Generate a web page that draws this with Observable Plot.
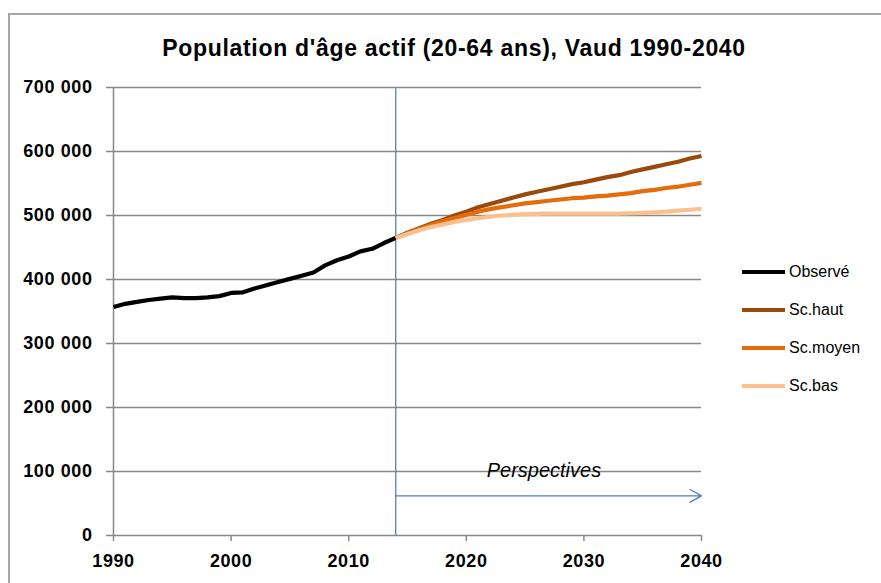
<!DOCTYPE html>
<html>
<head>
<meta charset="utf-8">
<script src="https://cdn.jsdelivr.net/npm/d3@7"></script>
<script src="https://cdn.jsdelivr.net/npm/@observablehq/plot@0.6"></script>
<style>
  html, body { margin: 0; padding: 0; background: #fff; overflow: hidden; }
  #wrap { position: relative; width: 881px; height: 583px; overflow: hidden; font-family: "Liberation Sans", Arial, sans-serif; }
  #frame { position: absolute; left: 8px; top: 13px; width: 1000px; height: 1000px; border-left: 2px solid #a6a6a6; border-top: 2px solid #a6a6a6; }
  #chart { position: absolute; left: 0; top: 0; }
  #title { position: absolute; left: 454px; top: 36px; transform: translateX(-50%); white-space: nowrap; font-weight: bold; font-size: 23px; letter-spacing: 0.7px; line-height: 24px; color: #000; }
  #legend { position: absolute; left: 742px; top: 253px; }
  .item { display: flex; align-items: center; height: 38px; font-size: 16px; }
  .sw { width: 43px; height: 4px; margin-right: 4px; }
</style>
</head>
<body>
<div id="wrap">
  <div id="frame"></div>
  <div id="chart"></div>
  <div id="title"></div>
  <div id="legend"></div>
</div>
<script>
const titleText = "Population d'âge actif (20-64 ans), Vaud 1990-2040";

const obsYears = d3.range(1990, 2015);
const obsValues = [357000, 362000, 365000, 368000, 370000, 372000, 371000, 371000, 372000, 374000,
                   379000, 380000, 386000, 391000, 396000, 401000, 406000, 411000, 422000, 430000,
                   436000, 444000, 448000, 457000, 465000];

const projYears = d3.range(2014, 2041);
const hautValues = [465000, 473000, 480000, 487000, 493000, 500000, 506000, 513000, 518000, 523000,
                    528000, 533000, 537000, 541000, 545000, 549000, 552000, 556000, 560000, 563000,
                    568000, 572000, 576000, 580000, 584000, 589000, 593000];
const moyenValues = [465000, 472000, 479000, 485000, 491000, 496000, 501000, 506000, 510000, 513000,
                     516000, 519000, 521000, 523000, 525000, 527000, 528000, 530000, 531000, 533000,
                     535000, 538000, 540000, 543000, 545000, 548000, 551000];
const basValues = [465000, 471000, 477000, 482000, 486000, 490000, 493000, 496000, 498000, 500000,
                   501000, 502000, 502500, 503000, 503000, 503000, 503000, 503000, 503000, 503000,
                   503500, 504000, 505000, 506000, 507500, 509000, 510500];

const seriesNames = ["Observé", "Sc.haut", "Sc.moyen", "Sc.bas"];
const seriesColors = ["#000000", "#9a4a0d", "#e46c0a", "#fac090"];

const xTicks = [1990, 2000, 2010, 2020, 2030, 2040];
const yTicks = [0, 100000, 200000, 300000, 400000, 500000, 600000, 700000];

const forecastStart = [2014];
const arrowSpan = [{x1: 2014, x2: 2040, y: 62000}];
const annotation = [{x: 2026.6, y: 101500, label: "Perspectives"}];

const rows = [];
obsYears.forEach((yr, i) => rows.push({year: yr, value: obsValues[i], series: seriesNames[0]}));
[hautValues, moyenValues, basValues].forEach((arr, k) =>
  projYears.forEach((yr, i) => rows.push({year: yr, value: arr[i], series: seriesNames[k + 1]})));

const fmt = d => d3.format(",")(d).replace(/,/g, " ");

const plot = Plot.plot({
  width: 881,
  height: 583,
  marginLeft: 113,
  marginRight: 180,
  marginTop: 87,
  marginBottom: 48,
  style: {fontFamily: "'Liberation Sans', Arial, sans-serif", fontSize: "18px", fontWeight: "bold", color: "#000", background: "transparent"},
  x: {domain: [1990, 2040]},
  y: {domain: [0, 700000]},
  color: {domain: seriesNames, range: seriesColors},
  marks: [
    Plot.gridY(yTicks, {stroke: "#888888", strokeOpacity: 1, strokeWidth: 1.5}),
    Plot.ruleX([1990], {stroke: "#888888", strokeWidth: 1.5}),
    Plot.axisY({ticks: yTicks, tickSize: 7, tickPadding: 14, tickFormat: fmt, label: null}),
    Plot.axisX({ticks: xTicks, tickSize: 6, tickPadding: 13, tickFormat: d => String(d), label: null}),
    Plot.ruleX(forecastStart, {y1: 0, y2: 698000, stroke: "#4f81bd", strokeWidth: 1.3}),
    Plot.arrow(arrowSpan, {x1: "x1", x2: "x2", y1: "y", y2: "y", stroke: "#4f81bd", strokeWidth: 1.3, headLength: 15, headAngle: 58, inset: 0}),
    Plot.text(annotation, {x: "x", y: "y", text: "label", fontStyle: "italic", fontWeight: "normal", fontSize: 20, fill: "#000"}),
    Plot.lineY(rows, {x: "year", y: "value", z: "series", stroke: "series", strokeWidth: 4.2, strokeLinejoin: "round", strokeLinecap: "butt"})
  ]
});

d3.select(plot).selectAll('[aria-label$="tick"]').attr("stroke", "#888888").attr("stroke-width", 1.5);
d3.select(plot).selectAll('[aria-label$="tick label"]').style("letter-spacing", "0.6px");
document.getElementById("chart").appendChild(plot);

document.getElementById("title").textContent = titleText;

const legend = d3.select("#legend");
seriesNames.forEach((name, i) => {
  const it = legend.append("div").attr("class", "item");
  it.append("div").attr("class", "sw").style("background", seriesColors[i]);
  it.append("span").text(name);
});
</script>
</body>
</html>
